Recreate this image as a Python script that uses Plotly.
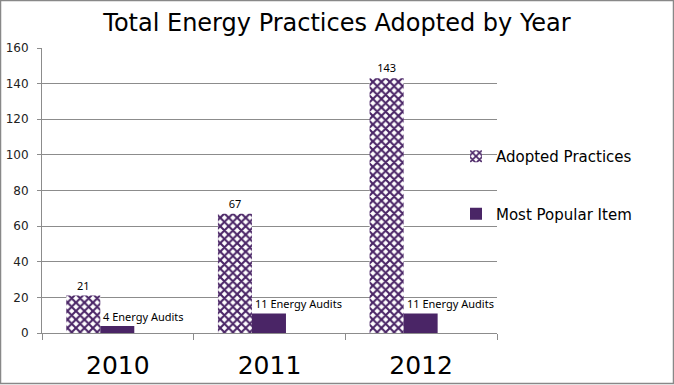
import plotly.graph_objects as go

years = ["2010", "2011", "2012"]
adopted = [21, 67, 143]
popular = [4, 11, 11]
popular_labels = ["4 Energy Audits", "11 Energy Audits", "11 Energy Audits"]
y_ticks = [0, 20, 40, 60, 80, 100, 120, 140, 160]

PURPLE = "#4A2566"
GRID = "#8C8C8C"
TXT_FONT = "DejaVu Sans"
LBL_FONT = "Noto Sans"

W, H = 674, 385
ML, MR, MT, MB = 42, 177, 48, 52
PW, PH = W - ML - MR, H - MT - MB

BAR_W = 0.2243
OFF1 = -0.34
OFF2 = OFF1 + BAR_W

fig = go.Figure()
fig.add_trace(go.Bar(
    x=years, y=adopted, name="Adopted Practices",
    width=BAR_W, offset=OFF1,
    marker=dict(color=PURPLE, line=dict(width=0),
                pattern=dict(shape="x", fillmode="replace", bgcolor="white",
                             size=6, solidity=0.58)),
    text=[str(v) for v in adopted], textposition="outside",
    textfont=dict(family=LBL_FONT, size=11, color="black"),
    cliponaxis=False, legendgroup="a",
))
fig.add_trace(go.Bar(
    x=years, y=popular, name="Most Popular Item",
    width=BAR_W, offset=OFF2,
    marker=dict(color=PURPLE, line=dict(width=0)),
    legendgroup="b",
))

for i, (v, t) in enumerate(zip(popular, popular_labels)):
    fig.add_annotation(x=i + OFF2, y=v, text=t, xref="x", yref="y",
                       xanchor="left", yanchor="bottom", showarrow=False,
                       xshift=1, yshift=0,
                       font=dict(family=LBL_FONT, size=11, color="black"))

# chart border
fig.add_shape(type="rect", xref="paper", yref="paper",
              x0=(0.5 - ML) / PW, x1=(673.5 - ML) / PW,
              y0=(MT + PH - 383.5) / PH, y1=(MT + PH - 0.5) / PH,
              line=dict(color="#888888", width=1.5), layer="below")

fig.update_layout(
    width=W, height=H,
    margin=dict(l=ML, r=MR, t=MT, b=MB, autoexpand=False),
    paper_bgcolor="white", plot_bgcolor="white",
    barmode="group",
    title=dict(text="Total Energy Practices Adopted by Year", x=0.5, xref="container",
               y=1 - 23 / H, yref="container", xanchor="center", yanchor="middle",
               automargin=False,
               font=dict(family=TXT_FONT, size=24, color="black")),
    xaxis=dict(type="category", showline=True, linecolor=GRID, linewidth=1,
               ticks="outside", tickson="boundaries", ticklen=6, tickcolor=GRID,
               tickfont=dict(family=TXT_FONT, size=25, color="black"),
               ticklabelstandoff=10, showgrid=False, automargin=False),
    yaxis=dict(range=[0, 160], tickvals=y_ticks, showline=True, linecolor=GRID,
               linewidth=1, ticks="outside", ticklen=4, tickcolor=GRID,
               showgrid=True, gridcolor=GRID, gridwidth=1, zeroline=False,
               tickfont=dict(family=TXT_FONT, size=12, color="#222222"),
               ticklabelstandoff=6, automargin=False),
    showlegend=True,
    legend=dict(x=(456 - ML) / PW, y=(MT + PH - 140) / PH, xanchor="left", yanchor="top",
                bgcolor="rgba(0,0,0,0)", traceorder="grouped", tracegroupgap=35,
                font=dict(family=TXT_FONT, size=15, color="black")),
)

fig.write_html("out.html", config={"displayModeBar": False},
               post_script="document.body.style.margin='0';")
